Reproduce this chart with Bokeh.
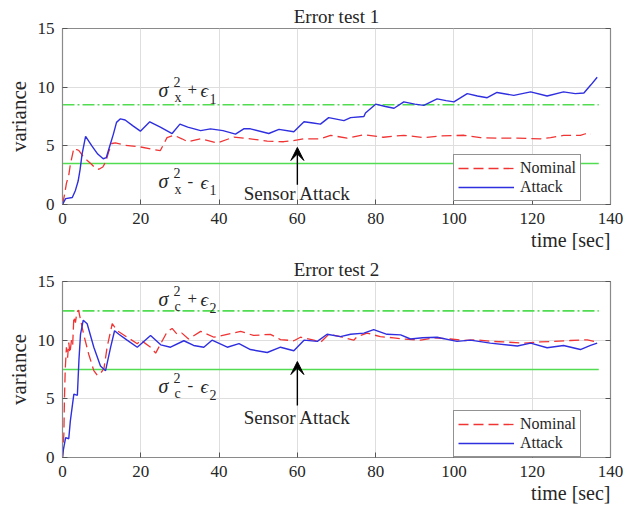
from bokeh.plotting import figure
from bokeh.layouts import column
from bokeh.models import Range1d, FixedTicker, LinearAxis, Label, Arrow, VeeHead, Title
from bokeh.embed import file_html
from bokeh.resources import INLINE

# ---------------- data ----------------
x_ticks = [0, 20, 40, 60, 80, 100, 120, 140]
y_ticks = [0, 5, 10, 15]
titles = ["Error test 1", "Error test 2"]
series_names = ["Nominal", "Attack"]
attack_time = 60
t_end = 137

# Error test 1
t1_attack = [0, 0.8, 2.5, 3.3, 4.0, 4.5, 5.0, 5.9, 7.5, 9.0, 10.4, 11.2, 12.0, 13.0, 13.8, 14.8, 16.0,
             18.0, 19.9, 22.3, 25.0, 28.0, 30.0, 32.0, 35.3, 37.8, 41.0, 44.2, 46.3, 48.0, 52.7, 55.3,
             59.1, 61.7, 64.0, 65.9, 68.0, 71.9, 73.6, 77.0, 77.4, 80.0, 82.5, 84.7, 87.2, 90.0, 92.3,
             95.7, 98.0, 100.0, 103.4, 106.0, 108.5, 111.0, 115.3, 119.6, 123.8, 128.0, 131.0, 133.2,
             135.0, 136.6]
v1_attack = [0, 0.5, 0.6, 1.2, 2.0, 3.0, 4.3, 5.8, 5.0, 4.3, 3.9, 4.0, 4.9, 6.0, 7.0, 7.3, 7.2,
             6.7, 6.25, 7.05, 6.6, 6.05, 6.85, 6.6, 6.3, 6.45, 6.3, 6.0, 6.45, 6.45, 6.05, 6.4,
             6.2, 7.05, 6.95, 6.85, 7.4, 7.15, 7.4, 7.5, 7.8, 8.55, 8.35, 8.2, 8.75, 8.55, 8.45,
             9.0, 8.85, 8.75, 9.45, 9.25, 9.1, 9.55, 9.3, 9.6, 9.25, 9.6, 9.45, 9.5,
             10.2, 10.85]
t1_nominal = [0, 0.5, 1.0, 1.6, 2.0, 2.9, 3.5, 4.2, 5.5, 7.2, 8.4, 9.3, 10.3, 11.0, 11.8, 12.6, 13.5,
              16.0, 20.0, 23.0, 25.0, 26.7, 28.5, 30.5, 32.0, 35.4, 39.5, 43.8, 48.0, 52.3, 56.5,
              59.0, 61.6, 65.9, 68.5, 72.7, 77.0, 82.0, 87.2, 92.3, 96.6, 102.6, 106.8, 111.0,
              116.2, 122.1, 124.7, 128.0, 132.3, 133.6, 135.0]
v1_nominal = [0, 0.8, 1.8, 2.5, 3.4, 4.8, 4.7, 4.6, 4.0, 3.5, 3.1, 3.0, 3.2, 3.6, 4.5, 5.2, 5.25,
              5.05, 4.9, 4.7, 4.6, 5.7, 5.9, 5.6, 5.35, 5.6, 5.25, 5.75, 5.6, 5.4, 5.35,
              5.45, 5.6, 5.6, 5.9, 5.65, 5.95, 5.73, 5.9, 5.7, 5.84, 5.9, 5.7, 5.65,
              5.65, 5.6, 5.7, 5.89, 5.89, 6.03, 6.0]
bounds1 = [8.5, 3.5]

# Error test 2
t2_attack = [0, 0.2, 0.8, 1.6, 2.0, 2.9, 3.8, 4.2, 4.6, 5.3, 6.3, 8.0, 9.7, 11.0, 12.3, 13.3, 14.4,
             16.5, 19.1, 22.5, 25.1, 27.6, 31.0, 33.5, 36.1, 38.2, 42.1, 45.1, 48.0, 52.3, 55.7,
             59.1, 61.7, 65.1, 67.6, 71.0, 73.6, 77.0, 79.5, 82.9, 86.4, 88.9, 92.0, 95.7, 100.8,
             104.2, 109.3, 116.2, 119.6, 123.8, 128.0, 132.3, 134.9, 136.6]
v2_attack = [0, 0.6, 1.7, 1.6, 3.1, 5.4, 5.3, 8.3, 10.5, 11.7, 11.4, 9.4, 7.8, 7.4, 9.4, 10.8, 10.5,
             10.0, 9.4, 10.4, 9.6, 9.4, 9.95, 9.55, 9.4, 10.0, 9.4, 9.7, 9.2, 8.95, 9.4,
             9.1, 10.0, 9.9, 10.5, 10.3, 10.5, 10.6, 10.9, 10.5, 10.45, 10.1, 10.2, 10.25, 9.9,
             10.0, 9.75, 9.5, 9.75, 9.35, 9.55, 9.2, 9.55, 9.75]
t2_nominal = [0, 0.35, 0.5, 0.7, 1.0, 1.3, 1.6, 1.9, 2.3, 2.6, 2.9, 3.3, 3.7, 4.1, 5.4, 6.7, 8.0,
              8.9, 10.0, 10.6, 11.4, 12.7, 14.0, 16.5, 19.1, 20.0, 22.5, 23.8, 25.1, 26.7, 28.0,
              29.3, 30.5, 32.2, 35.3, 38.7, 45.5, 48.8, 53.1, 55.7, 59.1, 60.8, 64.2, 65.9, 68.0,
              71.0, 74.4, 75.3, 77.8, 81.2, 84.6, 87.2, 91.5, 94.9, 99.1, 102.6, 106.0, 109.3,
              112.7, 117.9, 122.1, 125.5, 129.8, 134.1, 135.8]
v2_nominal = [0, 2.0, 5.0, 7.5, 9.4, 8.5, 9.8, 8.9, 10.0, 9.6, 12.0, 11.5, 12.4, 12.55, 10.5, 8.8, 7.4,
              7.0, 7.3, 7.6, 9.4, 11.4, 10.8, 10.26, 9.7, 10.0, 9.4, 8.9, 9.7, 10.7, 11.0,
              10.5, 10.6, 10.1, 10.75, 10.25, 10.75, 10.4, 10.5, 10.05, 9.95, 10.25, 10.0, 9.8, 10.5,
              10.3, 10.0, 10.3, 10.6, 10.3, 10.2, 10.1, 10.0, 10.2, 10.1, 9.97, 10.03, 9.9,
              9.85, 9.75, 9.85, 9.9, 9.97, 10.03, 9.9]
bounds2 = [12.5, 7.5]

# ---------------- style ----------------
SERIF = "Liberation Serif"
TXT = "#262626"
RED = "#f03434"
BLUE = "#2f2fe0"
GREEN = "#52dc52"
FRAME = "#8a8a8a"
W = 625


def make_fig(height, top, bottom, title):
    p = figure(width=W, height=height, output_backend="svg", toolbar_location=None,
               x_range=Range1d(0, 140), y_range=Range1d(0, 15),
               min_border_left=62, min_border_right=W - 62 - 548,
               min_border_top=top, min_border_bottom=bottom)
    p.title.text = title
    p.title.align = "center"
    p.title.text_font = SERIF
    p.title.text_font_size = "19px"
    p.title.text_font_style = "normal"
    p.title.text_color = TXT
    p.title.standoff = 3
    p.background_fill_color = "white"
    p.border_fill_color = "white"
    p.outline_line_color = FRAME
    p.outline_line_width = 1.2
    for ax in (p.xaxis[0], p.yaxis[0]):
        ax.major_label_text_font = SERIF
        ax.major_label_text_font_size = "17px"
        ax.major_label_text_color = TXT
        ax.major_tick_in = 5
        ax.major_tick_out = 0
        ax.minor_tick_line_color = None
        ax.axis_line_color = FRAME
        ax.major_tick_line_color = "#555555"
        ax.major_label_standoff = 8
    p.xaxis[0].ticker = FixedTicker(ticks=x_ticks)
    p.yaxis[0].ticker = FixedTicker(ticks=y_ticks)
    p.yaxis[0].axis_label = "variance"
    p.yaxis[0].axis_label_text_font = SERIF
    p.yaxis[0].axis_label_text_font_style = "normal"
    p.yaxis[0].axis_label_text_font_size = "21px"
    p.yaxis[0].axis_label_text_color = TXT
    p.yaxis[0].axis_label_standoff = 4
    # mirrored ticks on the right (box)
    ax = LinearAxis(ticker=FixedTicker(ticks=y_ticks), major_tick_in=5, major_tick_out=0,
                    minor_tick_line_color=None, major_label_text_font_size="8px",
                    major_label_overrides={t: "" for t in y_ticks},
                    major_label_standoff=0, axis_line_color=FRAME,
                    major_tick_line_color="#555555")
    p.add_layout(ax, "right")
    p.xgrid.ticker = FixedTicker(ticks=x_ticks)
    p.ygrid.ticker = FixedTicker(ticks=y_ticks)
    p.grid.grid_line_color = "#dedede"
    p.grid.grid_line_width = 1
    xl = Title(text="time [sec]", align="right", text_font=SERIF, text_font_size="20px",
               text_font_style="normal", text_color=TXT, standoff=0)
    p.add_layout(xl, "below")
    return p


def add_bound(p, x, y, sub, sign, eps_sub):
    pieces = [("σ", 0, 0, "20px", "italic"),
              ("2", 15, 8, "14px", "normal"),
              (sub, 16, -8, "14px", "normal"),
              (sign, 29, 0, "17px", "normal"),
              ("ϵ", 42, -1, "19px", "italic"),
              (eps_sub, 51, -9, "14px", "normal")]
    for txt, dx, dy, size, style in pieces:
        p.add_layout(Label(x=x, y=y, x_offset=dx, y_offset=dy, text=txt,
                           text_font=SERIF, text_font_size=size, text_font_style=style,
                           text_color=TXT, text_baseline="alphabetic", text_align="left"))


def build(height, top, bottom, title, tn, vn, ta, va, bounds, ann, legend_y, arrow_y, sensor_y, sub):
    p = make_fig(height, top, bottom, title)
    # thresholds
    p.line([0, t_end], [bounds[0], bounds[0]], line_color=GREEN, line_width=1.6, line_dash="12 3 2 3")
    p.line([0, t_end], [bounds[1], bounds[1]], line_color=GREEN, line_width=1.6)
    p.line(tn, vn, line_color=RED, line_width=1.3, line_dash="10 5", legend_label=series_names[0])
    p.line(ta, va, line_color=BLUE, line_width=1.4, legend_label=series_names[1])
    # legend
    lg = p.legend[0]
    lg.location = (391, legend_y)
    lg.label_text_font = SERIF
    lg.label_text_font_size = "16px"
    lg.label_text_color = TXT
    lg.glyph_width = 56
    lg.glyph_height = 16
    lg.label_height = 16
    lg.label_standoff = 6
    lg.spacing = 1
    lg.padding = 4
    lg.margin = 0
    lg.border_line_color = TXT
    lg.border_line_width = 1
    lg.background_fill_alpha = 1
    # bound annotations
    add_bound(p, 24.5, ann[0], sub, "+", ann[2])
    add_bound(p, 24.5, ann[1], sub, "-", ann[2])
    # sensor attack
    p.add_layout(Arrow(end=VeeHead(size=13, fill_color="black", line_color="black"),
                       x_start=attack_time, y_start=arrow_y[0], x_end=attack_time, y_end=arrow_y[1],
                       line_color="black", line_width=1.4))
    p.add_layout(Label(x=attack_time, y=sensor_y, text="Sensor Attack", text_font=SERIF,
                       text_font_size="19px", text_color=TXT, text_align="center",
                       text_baseline="alphabetic"))
    return p


p1 = build(250, 28, 43, titles[0], t1_nominal, v1_nominal, t1_attack, v1_attack, bounds1,
           (9.8, 2.0, "1"), 3, (1.68, 4.86), 0.92, "x")
p2 = build(262, 31, 55, titles[1], t2_nominal, v2_nominal, t2_attack, v2_attack, bounds2,
           (13.55, 6.12, "2"), 0, (4.43, 8.18), 3.4, "c")

layout = column(p1, p2, spacing=0)
open("out.html", "w").write(file_html(layout, INLINE))
